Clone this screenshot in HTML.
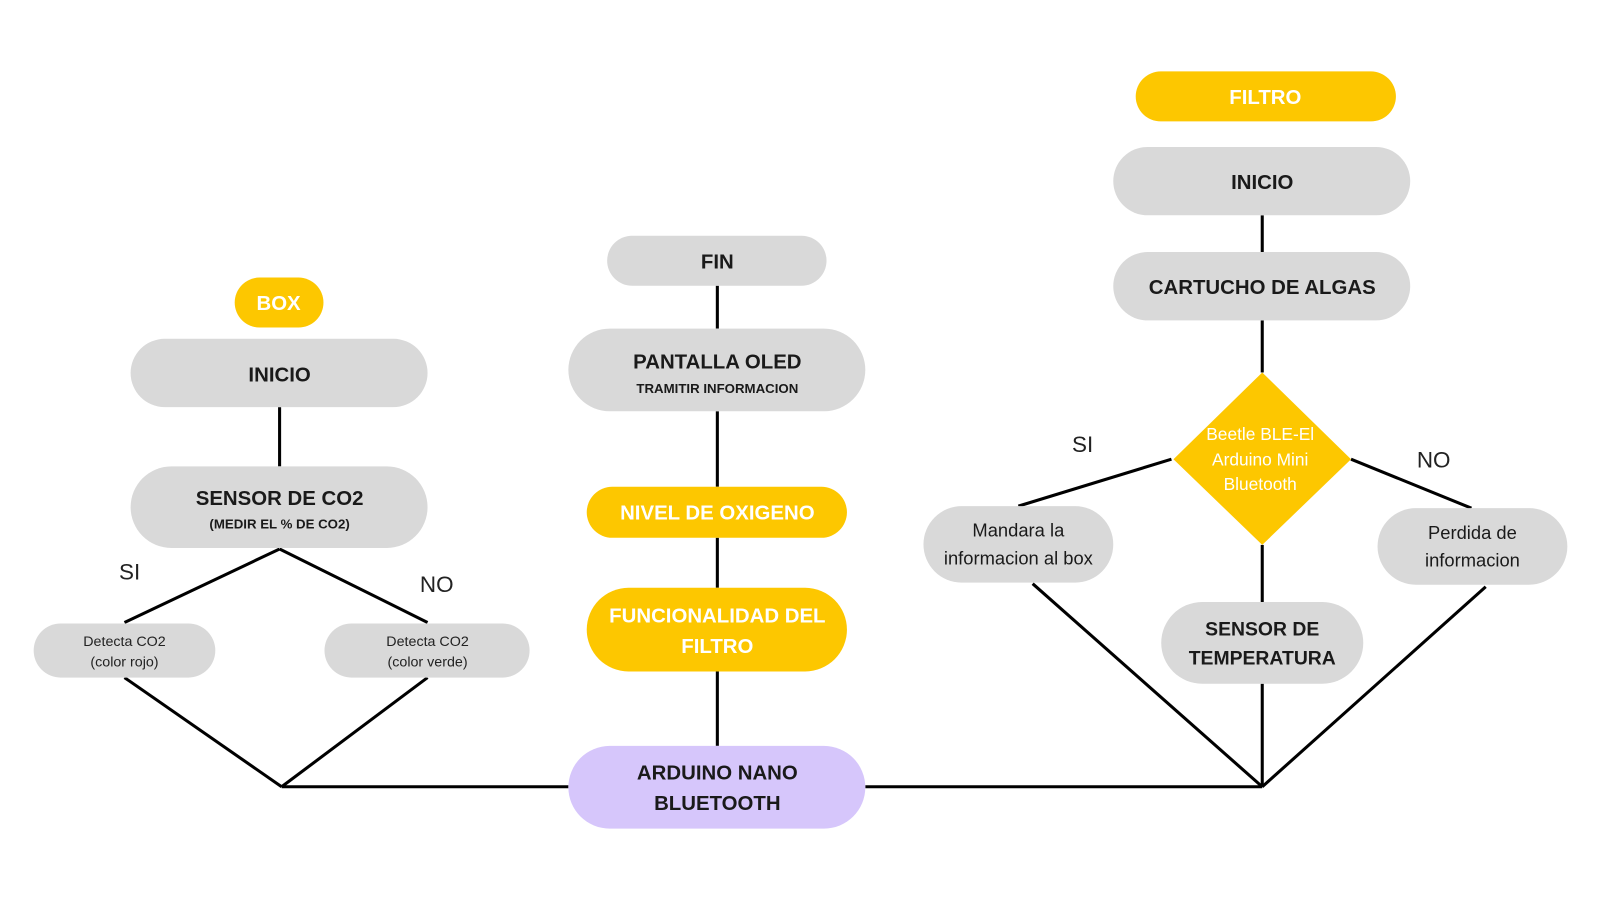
<!DOCTYPE html>
<html><head><meta charset="utf-8"><style>html,body{margin:0;padding:0;background:#fff}svg{display:block}</style></head>
<body>
<svg width="1600" height="899" viewBox="0 0 1568 881" preserveAspectRatio="none" xmlns="http://www.w3.org/2000/svg" font-family="Liberation Sans, sans-serif">
<g stroke="#000" stroke-width="3" fill="none">
<line x1="274" y1="399" x2="274" y2="457"/>
<line x1="274" y1="538" x2="122" y2="610"/>
<line x1="274" y1="538" x2="419" y2="610"/>
<line x1="122" y1="664" x2="276" y2="771"/>
<line x1="419" y1="664" x2="276" y2="771"/>
<line x1="276" y1="771" x2="557" y2="771"/>
<line x1="848" y1="771" x2="1237" y2="771"/>
<line x1="703" y1="280" x2="703" y2="322"/>
<line x1="703" y1="403" x2="703" y2="477"/>
<line x1="703" y1="527" x2="703" y2="576"/>
<line x1="703" y1="658" x2="703" y2="731"/>
<line x1="1237" y1="211" x2="1237" y2="247"/>
<line x1="1237" y1="314" x2="1237" y2="365"/>
<line x1="1237" y1="534" x2="1237" y2="590"/>
<line x1="1237" y1="670" x2="1237" y2="771"/>
<line x1="1148" y1="450" x2="998" y2="496"/>
<line x1="1324" y1="450" x2="1442" y2="498"/>
<line x1="1012" y1="572" x2="1237" y2="771"/>
<line x1="1456" y1="575" x2="1237" y2="771"/>
</g>
<g fill="#d9d9d9">
<rect x="1091" y="144" width="291" height="67" rx="33.5"/>
<rect x="1091" y="247" width="291" height="67" rx="33.5"/>
<rect x="905" y="496" width="186" height="75" rx="37.5"/>
<rect x="1350" y="498" width="186" height="75" rx="37.5"/>
<rect x="1138" y="590" width="198" height="80" rx="40"/>
<rect x="595" y="231" width="215" height="49" rx="24.5"/>
<rect x="557" y="322" width="291" height="81" rx="40.5"/>
<rect x="128" y="332" width="291" height="67" rx="33.5"/>
<rect x="128" y="457" width="291" height="80" rx="40"/>
<rect x="33" y="611" width="178" height="53" rx="26.5"/>
<rect x="318" y="611" width="201" height="53" rx="26.5"/>
</g>
<g fill="#fdc700">
<rect x="1113" y="70" width="255" height="49" rx="24.5"/>
<rect x="575" y="477" width="255" height="50" rx="25"/>
<rect x="575" y="576" width="255" height="82" rx="41"/>
<rect x="230" y="272" width="87" height="49" rx="24.5"/>
<polygon points="1237,365 1324,450 1237,534 1150,450"/>
</g>
<rect x="557" y="731" width="291" height="81" rx="40.5" fill="#d6c6fb"/>
<g text-anchor="middle" font-weight="bold" fill="#fff" font-size="20">
<text x="1240" y="102">FILTRO</text>
<text x="703" y="509">NIVEL DE OXIGENO</text>
<text x="703" y="610">FUNCIONALIDAD DEL</text>
<text x="703" y="640">FILTRO</text>
<text x="273" y="304">BOX</text>
</g>
<g text-anchor="middle" fill="#fff" font-size="17">
<text x="1235" y="431">Beetle BLE-El</text>
<text x="1235" y="456">Arduino Mini</text>
<text x="1235" y="480">Bluetooth</text>
</g>
<g text-anchor="middle" font-weight="bold" fill="#1a1a1a" font-size="20">
<text x="1237" y="185">INICIO</text>
<text x="1237" y="288">CARTUCHO DE ALGAS</text>
<text x="1237" y="623" font-size="19">SENSOR DE</text>
<text x="1237" y="651" font-size="19">TEMPERATURA</text>
<text x="703" y="263">FIN</text>
<text x="703" y="361">PANTALLA OLED</text>
<text x="703" y="385" font-size="13">TRAMITIR INFORMACION</text>
<text x="274" y="374">INICIO</text>
<text x="274" y="495">SENSOR DE CO2</text>
<text x="274" y="518" font-size="13">(MEDIR EL % DE CO2)</text>
<text x="703" y="764">ARDUINO NANO</text>
<text x="703" y="794">BLUETOOTH</text>
</g>
<g text-anchor="middle" fill="#1a1a1a" font-size="18">
<text x="998" y="526">Mandara la</text>
<text x="998" y="553">informacion al box</text>
<text x="1443" y="528">Perdida de</text>
<text x="1443" y="555">informacion</text>
</g>
<g text-anchor="middle" fill="#222" font-size="14">
<text x="122" y="633">Detecta CO2</text>
<text x="122" y="653">(color rojo)</text>
<text x="419" y="633">Detecta CO2</text>
<text x="419" y="653">(color verde)</text>
</g>
<g text-anchor="middle" fill="#222" font-size="22">
<text x="127" y="568">SI</text>
<text x="428" y="580">NO</text>
<text x="1061" y="443">SI</text>
<text x="1405" y="458">NO</text>
</g>
</svg>
</body></html>
